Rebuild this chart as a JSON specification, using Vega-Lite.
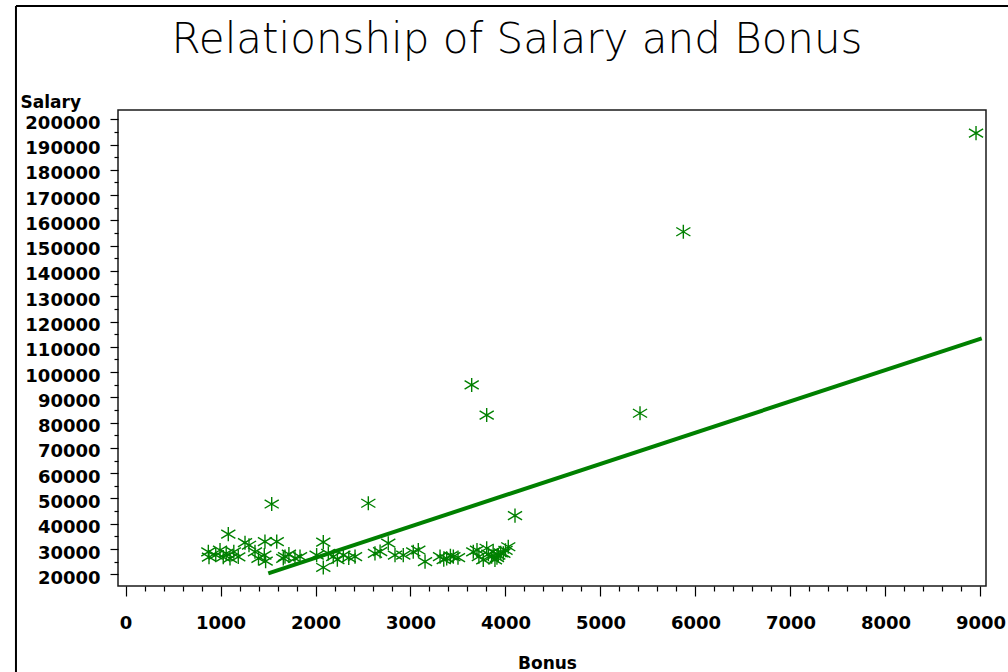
{
  "$schema": "https://vega.github.io/schema/vega-lite/v6.json",
  "width": 868,
  "height": 476,
  "autosize": {"type": "none"},
  "padding": {"left": 118, "top": 110, "right": 22, "bottom": 86},
  "background": "white",
  "config": {
    "view": {"stroke": "#1a1a1a", "strokeWidth": 1.5},
    "axis": {
      "grid": false,
      "domain": false,
      "tickColor": "#000",
      "tickWidth": 1.2,
      "labelColor": "#000",
      "titleColor": "#000",
      "labelFont": "DejaVu Sans",
      "labelFontWeight": "bold",
      "labelFontSize": 18,
      "titleFont": "DejaVu Sans",
      "titleFontWeight": "bold",
      "titleFontSize": 17,
      "labelFlush": false,
      "labelOverlap": false
    }
  },
  "title": {
    "text": "Relationship of Salary and Bonus",
    "font": "DejaVu Sans",
    "fontSize": 42,
    "fontWeight": 200,
    "color": "#000",
    "anchor": "middle",
    "frame": "group",
    "baseline": "alphabetic",
    "offset": -90,
    "dx": -35
  },
  "datasets": {
    "staff": [
      {"Bonus": 872, "Salary": 28900},
      {"Bonus": 879, "Salary": 26800},
      {"Bonus": 950, "Salary": 27600},
      {"Bonus": 995, "Salary": 29600},
      {"Bonus": 1029, "Salary": 26800},
      {"Bonus": 1060, "Salary": 28300},
      {"Bonus": 1082, "Salary": 35900},
      {"Bonus": 1100, "Salary": 26300},
      {"Bonus": 1140, "Salary": 28900},
      {"Bonus": 1187, "Salary": 26900},
      {"Bonus": 1258, "Salary": 32500},
      {"Bonus": 1300, "Salary": 31500},
      {"Bonus": 1363, "Salary": 28900},
      {"Bonus": 1400, "Salary": 26300},
      {"Bonus": 1461, "Salary": 27600},
      {"Bonus": 1468, "Salary": 32900},
      {"Bonus": 1475, "Salary": 25200},
      {"Bonus": 1539, "Salary": 47800},
      {"Bonus": 1592, "Salary": 32900},
      {"Bonus": 1661, "Salary": 26300},
      {"Bonus": 1679, "Salary": 27000},
      {"Bonus": 1720, "Salary": 28000},
      {"Bonus": 1784, "Salary": 26300},
      {"Bonus": 1837, "Salary": 27000},
      {"Bonus": 2012, "Salary": 27600},
      {"Bonus": 2082, "Salary": 32700},
      {"Bonus": 2082, "Salary": 22700},
      {"Bonus": 2135, "Salary": 28300},
      {"Bonus": 2187, "Salary": 27000},
      {"Bonus": 2230, "Salary": 25800},
      {"Bonus": 2293, "Salary": 27600},
      {"Bonus": 2350, "Salary": 26500},
      {"Bonus": 2416, "Salary": 27000},
      {"Bonus": 2556, "Salary": 48100},
      {"Bonus": 2626, "Salary": 28300},
      {"Bonus": 2680, "Salary": 29000},
      {"Bonus": 2766, "Salary": 32300},
      {"Bonus": 2837, "Salary": 27600},
      {"Bonus": 2924, "Salary": 27600},
      {"Bonus": 3029, "Salary": 28900},
      {"Bonus": 3082, "Salary": 29600},
      {"Bonus": 3153, "Salary": 25000},
      {"Bonus": 3311, "Salary": 27000},
      {"Bonus": 3350, "Salary": 25800},
      {"Bonus": 3381, "Salary": 26300},
      {"Bonus": 3420, "Salary": 27300},
      {"Bonus": 3451, "Salary": 27000},
      {"Bonus": 3500, "Salary": 26600},
      {"Bonus": 3644, "Salary": 94900},
      {"Bonus": 3661, "Salary": 28900},
      {"Bonus": 3700, "Salary": 29600},
      {"Bonus": 3720, "Salary": 27000},
      {"Bonus": 3766, "Salary": 25700},
      {"Bonus": 3802, "Salary": 83000},
      {"Bonus": 3802, "Salary": 30300},
      {"Bonus": 3820, "Salary": 28000},
      {"Bonus": 3854, "Salary": 27000},
      {"Bonus": 3870, "Salary": 29000},
      {"Bonus": 3889, "Salary": 25700},
      {"Bonus": 3910, "Salary": 26600},
      {"Bonus": 3924, "Salary": 27600},
      {"Bonus": 3950, "Salary": 28500},
      {"Bonus": 3977, "Salary": 28300},
      {"Bonus": 4000, "Salary": 29500},
      {"Bonus": 4029, "Salary": 30900},
      {"Bonus": 4100, "Salary": 43200},
      {"Bonus": 5416, "Salary": 83700},
      {"Bonus": 5872, "Salary": 155500},
      {"Bonus": 8953, "Salary": 194500}
    ],
    "fit": [
      {"Bonus": 1503, "Salary": 20400},
      {"Bonus": 9013, "Salary": 113350}
    ]
  },
  "layer": [
    {
      "description": "page border, left edge",
      "data": {"values": [{}]},
      "mark": {"type": "rule", "color": "#000", "strokeWidth": 2},
      "encoding": {
        "x": {"datum": -1153, "type": "quantitative", "scale": {"domain": [-79, 9058], "nice": false, "zero": false}, "axis": null},
        "y": {"datum": 244800, "type": "quantitative", "scale": {"domain": [15372, 203664], "nice": false, "zero": false}, "axis": null},
        "y2": {"datum": -40000}
      }
    },
    {
      "description": "page border, top edge",
      "data": {"values": [{}]},
      "mark": {"type": "rule", "color": "#000", "strokeWidth": 2},
      "encoding": {
        "x": {"datum": -1153, "type": "quantitative", "scale": {"domain": [-79, 9058], "nice": false, "zero": false}, "axis": null},
        "x2": {"datum": 10000},
        "y": {"datum": 244800, "type": "quantitative", "scale": {"domain": [15372, 203664], "nice": false, "zero": false}, "axis": null}
      }
    },
    {
      "data": {"name": "staff"},
      "mark": {
        "type": "point",
        "shape": "M0,-1L0,1M-1,-0.6L1,0.6M-1,0.6L1,-0.6",
        "filled": false,
        "size": 200,
        "stroke": "#008000",
        "strokeWidth": 1.4,
        "opacity": 1
      },
      "encoding": {
        "x": {
          "field": "Bonus",
          "type": "quantitative",
          "scale": {"domain": [-79, 9058], "nice": false, "zero": false},
          "axis": {
            "orient": "bottom",
            "values": [0, 1000, 2000, 3000, 4000, 5000, 6000, 7000, 8000, 9000],
            "format": "d",
            "tickSize": 10,
            "labelPadding": 18,
            "title": "Bonus",
            "titleX": 429,
            "titleY": 82,
            "titleAlign": "center",
            "titleBaseline": "alphabetic"
          }
        },
        "y": {
          "field": "Salary",
          "type": "quantitative",
          "scale": {"domain": [15372, 203664], "nice": false, "zero": false},
          "axis": {
            "orient": "left",
            "values": [20000, 30000, 40000, 50000, 60000, 70000, 80000, 90000, 100000, 110000, 120000, 130000, 140000, 150000, 160000, 170000, 180000, 190000, 200000],
            "format": "d",
            "tickSize": 8,
            "labelPadding": 10,
            "labelOffset": 4,
            "title": "Salary",
            "titleAngle": 0,
            "titleAlign": "left",
            "titleBaseline": "alphabetic",
            "titleX": -98,
            "titleY": -3
          }
        }
      }
    },
    {
      "data": {"name": "fit"},
      "mark": {"type": "line", "color": "#008000", "strokeWidth": 4},
      "encoding": {
        "x": {
          "field": "Bonus",
          "type": "quantitative",
          "scale": {"domain": [-79, 9058], "nice": false, "zero": false},
          "axis": {
            "orient": "bottom",
            "values": [200, 400, 600, 800, 1200, 1400, 1600, 1800, 2200, 2400, 2600, 2800, 3200, 3400, 3600, 3800, 4200, 4400, 4600, 4800, 5200, 5400, 5600, 5800, 6200, 6400, 6600, 6800, 7200, 7400, 7600, 7800, 8200, 8400, 8600, 8800],
            "tickSize": 5,
            "labels": false,
            "title": null
          }
        },
        "y": {
          "field": "Salary",
          "type": "quantitative",
          "scale": {"domain": [15372, 203664], "nice": false, "zero": false},
          "axis": {
            "orient": "left",
            "values": [25000, 35000, 45000, 55000, 65000, 75000, 85000, 95000, 105000, 115000, 125000, 135000, 145000, 155000, 165000, 175000, 185000, 195000],
            "tickSize": 4,
            "labels": false,
            "title": null
          }
        }
      }
    }
  ],
  "resolve": {"axis": {"x": "independent", "y": "independent"}}
}
